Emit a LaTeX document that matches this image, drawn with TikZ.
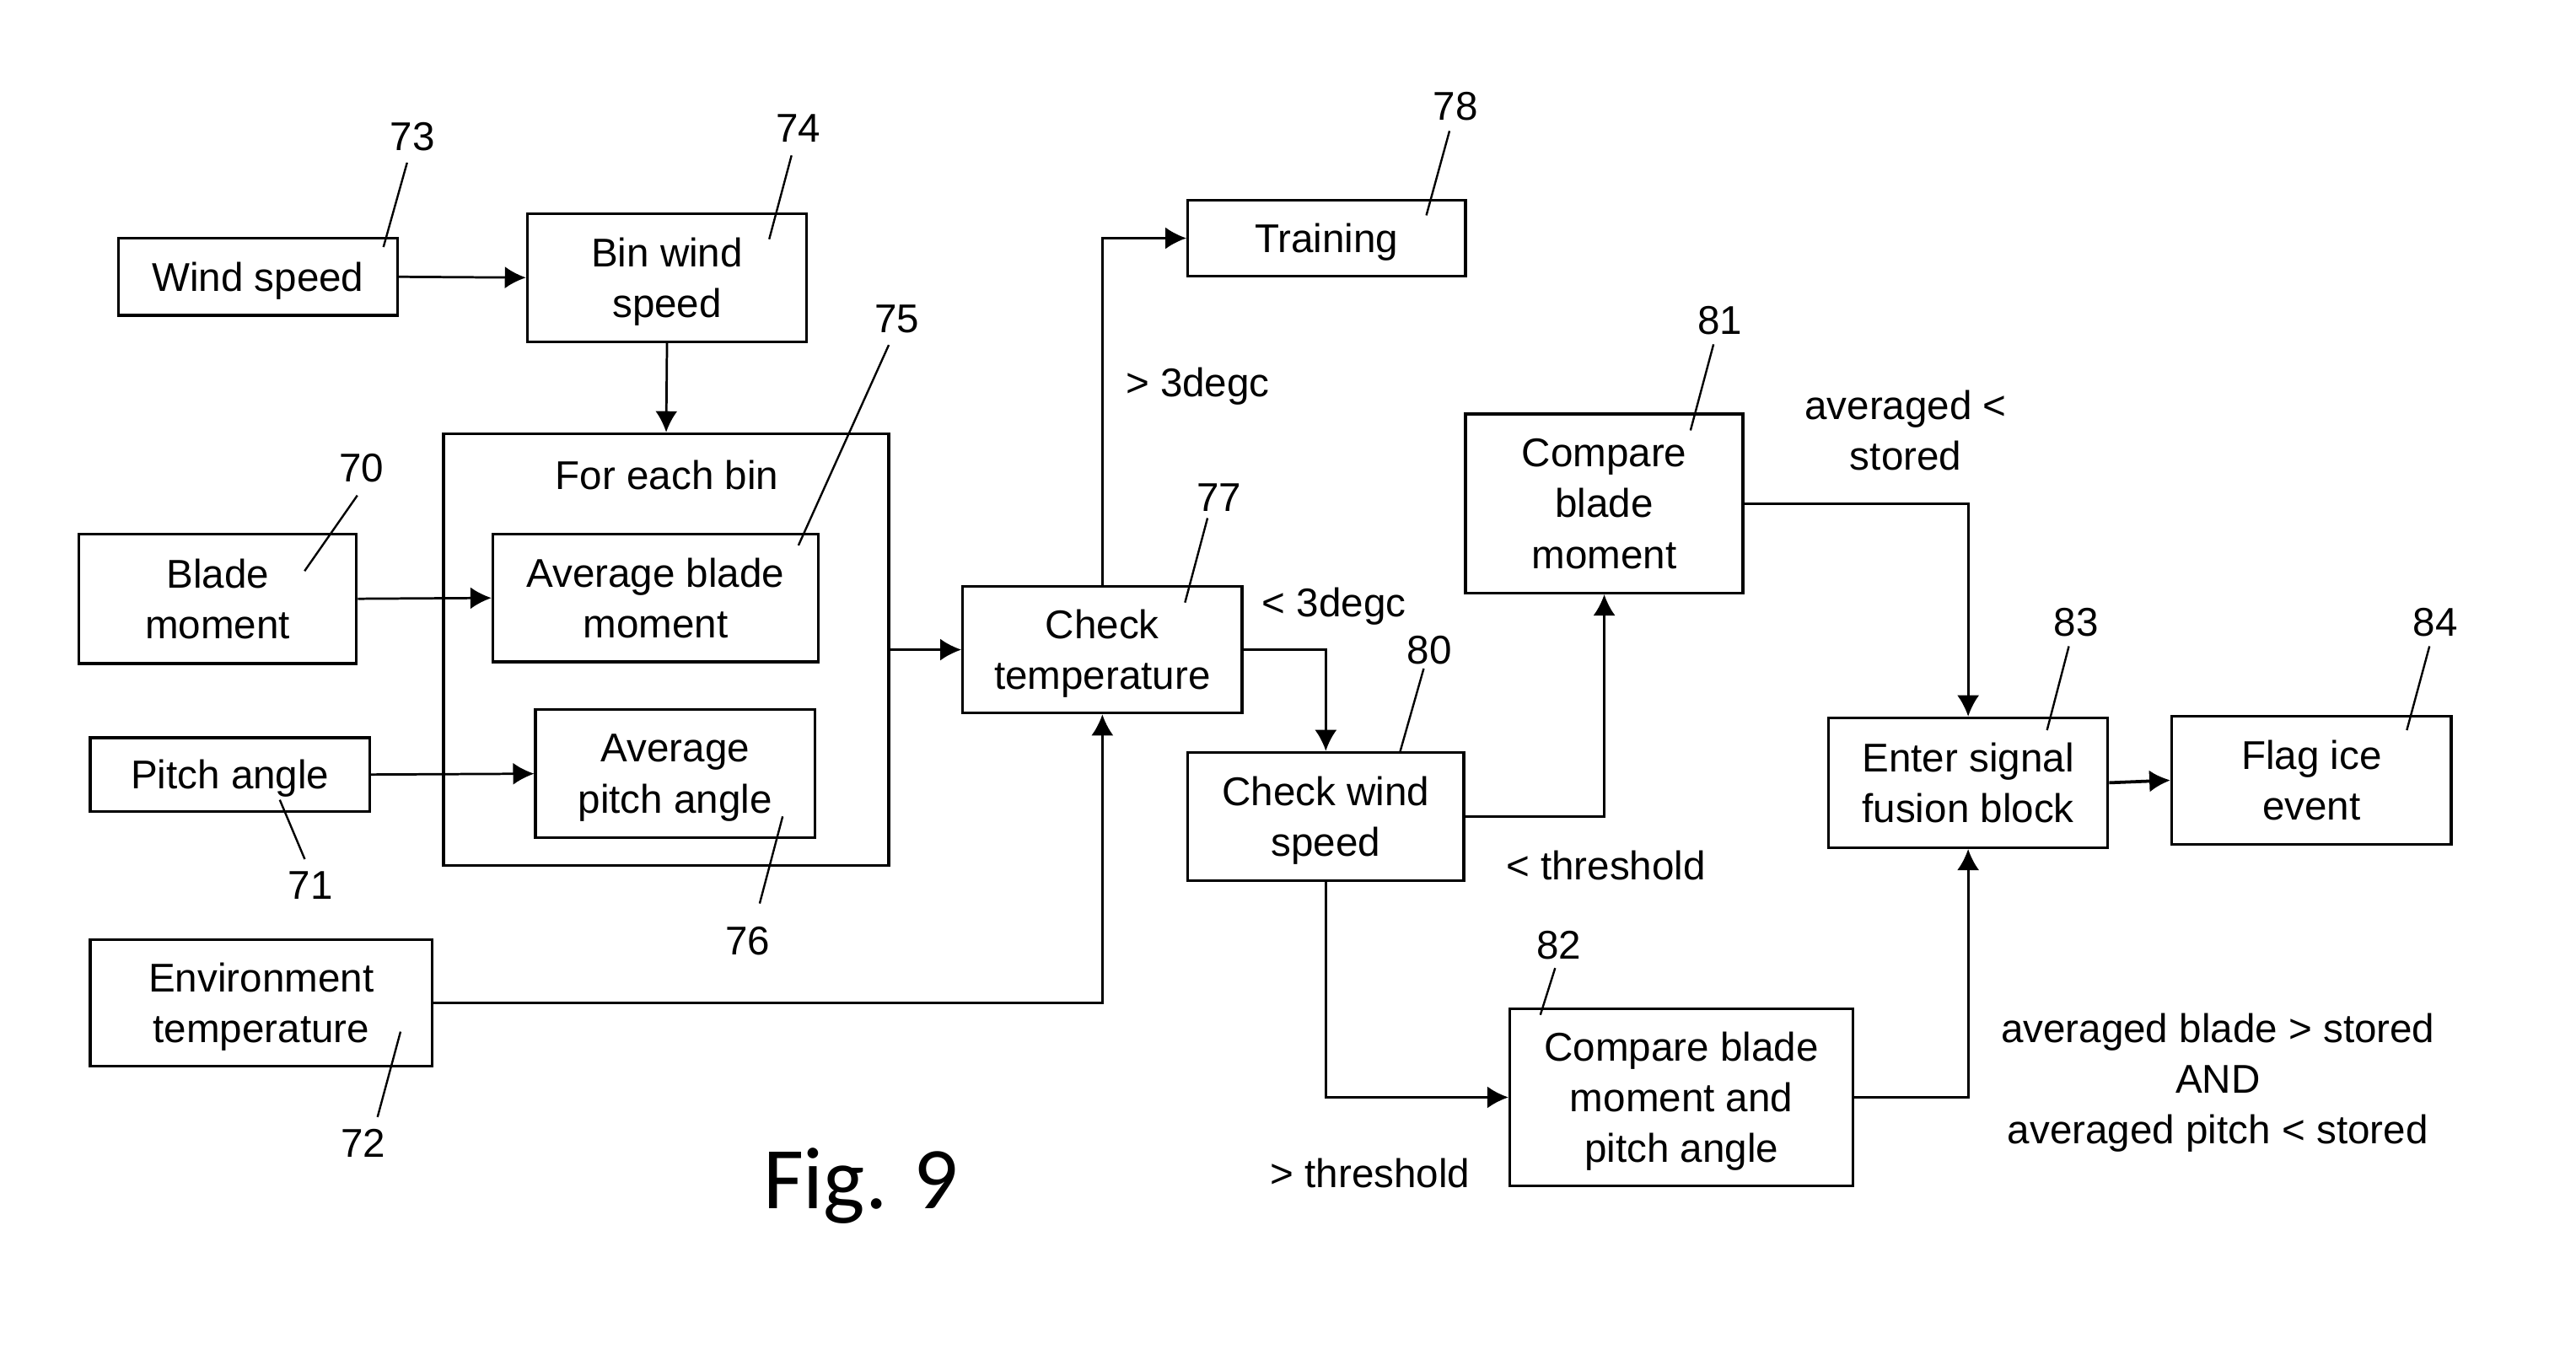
\documentclass[tikz,border=0pt]{standalone}
\usepackage{fontspec}
\setmainfont{Liberation Sans}
\newfontfamily\figfont{Carlito}
\usetikzlibrary{arrows.meta}
\begin{document}
\begin{tikzpicture}[x=0.02cm,y=-0.02cm,
  font=\fontsize{13.9}{17.6}\selectfont,
  blk/.style={draw,line width=1pt,inner sep=0pt,align=center,text depth=0pt},
  lbl/.style={inner sep=0pt,align=center},
  conn/.style={line width=0.8pt,-{Latex[length=7.3pt,width=7.6pt]}},
  leader/.style={line width=0.7pt}]
\fill[white] (0,0) rectangle (1568,821);
\useasboundingbox (0,0) rectangle (1568,821);

% blocks
\node[blk,minimum width=3.4cm,minimum height=0.94cm] (ws) at (157,168.5) {Wind speed};
\node[blk,minimum width=3.4cm,minimum height=1.56cm] (bin) at (406,169) {Bin wind\\speed};
\node[blk,minimum width=5.42cm,minimum height=5.26cm] (each) at (405.5,395.5) {};
\node[lbl] (eachlbl) at (406,289) {For each bin};
\node[blk,minimum width=3.96cm,minimum height=1.56cm] (avgb) at (399,364) {Average blade\\moment};
\node[blk,minimum width=3.4cm,minimum height=1.56cm] (avgp) at (411,471) {Average\\pitch angle};
\node[blk,minimum width=3.38cm,minimum height=1.58cm] (bm) at (132.5,364.5) {Blade\\moment};
\node[blk,minimum width=3.4cm,minimum height=0.9cm] (pa) at (140,471.5) {Pitch angle};
\node[blk,minimum width=4.16cm,minimum height=1.54cm] (env) at (159,610.5) {Environment\\temperature};
\node[blk,minimum width=3.4cm,minimum height=1.54cm] (ct) at (671,395.5) {Check\\temperature};
\node[blk,minimum width=3.38cm,minimum height=0.92cm] (tr) at (807.5,145) {Training};
\node[blk,minimum width=3.36cm,minimum height=1.56cm] (cw) at (807,497) {Check wind\\speed};
\node[blk,minimum width=3.38cm,minimum height=2.18cm] (cb) at (976.5,306.5) {Compare\\blade\\moment};
\node[blk,minimum width=4.18cm,minimum height=2.16cm] (cbp) at (1023.5,668) {Compare blade\\moment and\\pitch angle};
\node[blk,minimum width=3.4cm,minimum height=1.58cm] (esf) at (1198,476.5) {Enter signal\\fusion block};
\node[blk,minimum width=3.4cm,minimum height=1.56cm] (fie) at (1407,475) {Flag ice\\event};

% connectors
\draw[conn] (ws.east) -- (bin.west);
\draw[conn] (bin.south) -- (each.north);
\draw[conn] (bm.east) -- (avgb.west);
\draw[conn] (pa.east) -- (avgp.west);
\draw[conn] (each.east) -- (ct.west);
\draw[conn] (env.east) -| (ct.south);
\draw[conn] (ct.north) |- (tr.west);
\draw[conn] (ct.east) -| (cw.north);
\draw[conn] (cw.east) -| (cb.south);
\draw[conn] (cw.south) |- (cbp.west);
\draw[conn] (cb.east) -| (esf.north);
\draw[conn] (cbp.east) -| (esf.south);
\draw[conn,line width=1.1pt] (esf.east) -- (fie.west);

% condition labels
\node[lbl] (c1) at (729,235) {> 3degc};
\node[lbl] (c2) at (812,369) {< 3degc};
\node[lbl] (c3) at (977.5,527) {< threshold};
\node[lbl] (c4) at (834,714) {> threshold};
\node[lbl] (c5) at (1160,262) {averaged <\\stored};
\node[lbl] (c6) at (1350,659) {averaged blade > stored\\AND\\averaged pitch < stored};

% reference numerals
\node[lbl] (n73) at (251,83) {73};
\node[lbl] (n74) at (486,78) {74};
\node[lbl] (n75) at (546,194) {75};
\node[lbl] (n70) at (220,285) {70};
\node[lbl] (n71) at (189,539) {71};
\node[lbl] (n76) at (455,573) {76};
\node[lbl] (n72) at (221,696) {72};
\node[lbl] (n78) at (886,64.7) {78};
\node[lbl] (n77) at (742,303) {77};
\node[lbl] (n81) at (1047,195) {81};
\node[lbl] (n80) at (870,395.6) {80};
\node[lbl] (n82) at (949,575.5) {82};
\node[lbl] (n83) at (1263.7,378.6) {83};
\node[lbl] (n84) at (1482.3,378.6) {84};

% leader lines
\coordinate (a73) at (247.8,99);   \coordinate (b73) at (233.4,150.4);
\coordinate (a74) at (481.8,94.6); \coordinate (b74) at (468.2,145.6);
\coordinate (a75) at (541,210);    \coordinate (b75) at (486,332);
\coordinate (a70) at (217.5,301.6);\coordinate (b70) at (185.4,347.6);
\coordinate (a71) at (185.5,523);  \coordinate (b71) at (170.3,486.9);
\coordinate (a76) at (462.4,550);  \coordinate (b76) at (476.4,497);
\coordinate (a72) at (229.8,680);  \coordinate (b72) at (243.8,628);
\coordinate (a78) at (882.3,79.7); \coordinate (b78) at (868.2,131.1);
\coordinate (a77) at (735,315.4);  \coordinate (b77) at (721.3,366.8);
\coordinate (a81) at (1043,209.6); \coordinate (b81) at (1029,262);
\coordinate (a80) at (866.6,407);  \coordinate (b80) at (852,458.4);
\coordinate (a82) at (946.6,589.3);\coordinate (b82) at (937.6,617.8);
\coordinate (a83) at (1259.3,393.4);\coordinate (b83) at (1246,444.5);
\coordinate (a84) at (1478.8,393.4);\coordinate (b84) at (1465,444.5);
\foreach \k in {73,74,75,70,71,76,72,78,77,81,80,82,83,84}
  \draw[leader] (a\k) -- (b\k);

% figure caption
\node[lbl,anchor=base,font=\figfont\fontsize{30.5}{34}\selectfont] (fig) at (524,735.5) {Fig. 9};
\end{tikzpicture}
\end{document}
